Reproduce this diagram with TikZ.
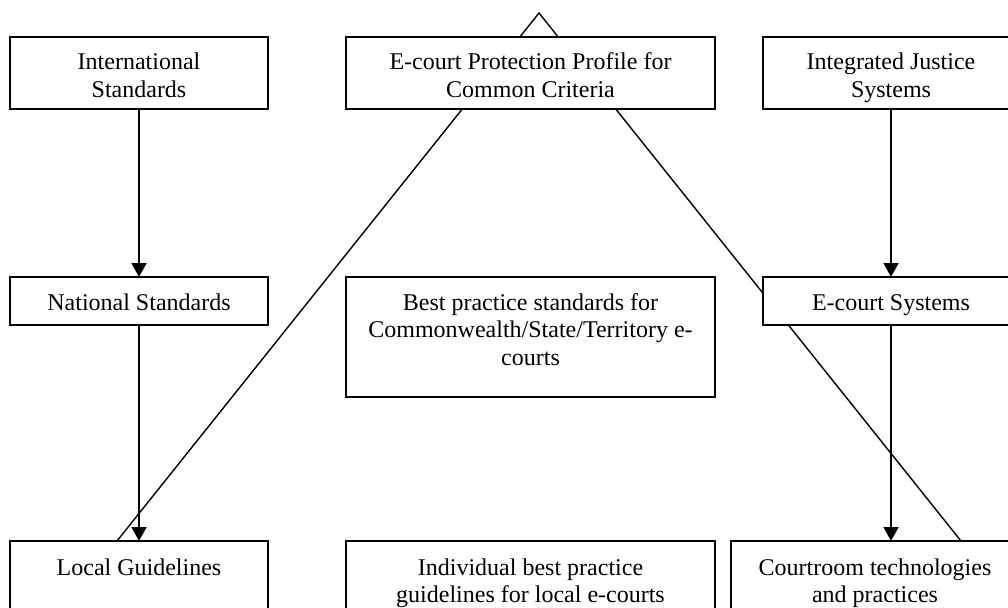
\documentclass[tikz,border=0pt]{standalone}
\usepackage{fontspec}
\setmainfont{Liberation Serif}
\usetikzlibrary{arrows.meta,calc}
\begin{document}
\begin{tikzpicture}[x=1pt,y=-1pt,
  line/.style={line width=1.4pt,line join=miter},
  box/.style={draw,line width=1.7pt,fill=white,inner sep=0pt,outer sep=0pt,anchor=north west},
  txt/.style={anchor=base,align=flush center,inner sep=0pt,font=\fontsize{24}{27.6}\selectfont},
  arr/.style={line width=1.7pt,-{Triangle[width=15pt,length=14pt]}}]
\fill[white] (0,0) rectangle (1008,607);
\useasboundingbox (0,0) rectangle (1008,607);
\clip (0,0) rectangle (1008,607);
% open triangle behind the boxes
\coordinate (apex) at (539,13);
\coordinate (tl) at (117,541);
\coordinate (tr) at (961,541);
\draw[line] (tl) -- (apex) -- (tr);
% top row
\node[box,minimum width=258pt,minimum height=72pt] (intl) at (10,37) {};
\node[box,minimum width=369pt,minimum height=72pt] (epp) at (346,37) {};
\node[box,minimum width=256pt,minimum height=72pt] (ijs) at (763,37) {};
% middle row
\node[box,minimum width=258pt,minimum height=48pt] (natl) at (10,277) {};
\node[box,minimum width=369pt,minimum height=120pt] (best) at (346,277) {};
\node[box,minimum width=256pt,minimum height=48pt] (ecs) at (763,277) {};
% bottom row
\node[box,minimum width=258pt,minimum height=100pt] (local) at (10,541) {};
\node[box,minimum width=369pt,minimum height=100pt] (indiv) at (346,541) {};
\node[box,minimum width=288pt,minimum height=100pt] (court) at (731,541) {};
% texts
\node[txt,text width=250pt] (intl-t) at ($(intl.north)+(0,33)$) {International\\Standards};
\node[txt,text width=360pt] (epp-t) at ($(epp.north)+(0,33)$) {E-court Protection Profile for\\Common Criteria};
\node[txt,text width=250pt] (ijs-t) at ($(ijs.north)+(0,33)$) {Integrated Justice\\Systems};
\node[txt,text width=250pt] (natl-t) at ($(natl.north)+(0,33)$) {National Standards};
\node[txt,text width=360pt] (best-t) at ($(best.north)+(0,33)$) {Best practice standards for\\Commonwealth/State/Territory e-\\courts};
\node[txt,text width=250pt] (ecs-t) at ($(ecs.north)+(0,33)$) {E-court Systems};
\node[txt,text width=250pt] (local-t) at ($(local.north)+(0,34)$) {Local Guidelines};
\node[txt,text width=360pt] (indiv-t) at ($(indiv.north)+(0,34)$) {Individual best practice\\guidelines for local e-courts};
\node[txt,text width=280pt] (court-t) at ($(court.north)+(0,34)$) {Courtroom technologies\\and practices};
% arrows
\draw[arr] (intl.south) -- (natl.north);
\draw[arr] (natl.south) -- (local.north);
\draw[arr] (ijs.south) -- (ecs.north);
\draw[arr] (ecs.south) -- (ecs.south |- court.north);
\end{tikzpicture}
\end{document}
